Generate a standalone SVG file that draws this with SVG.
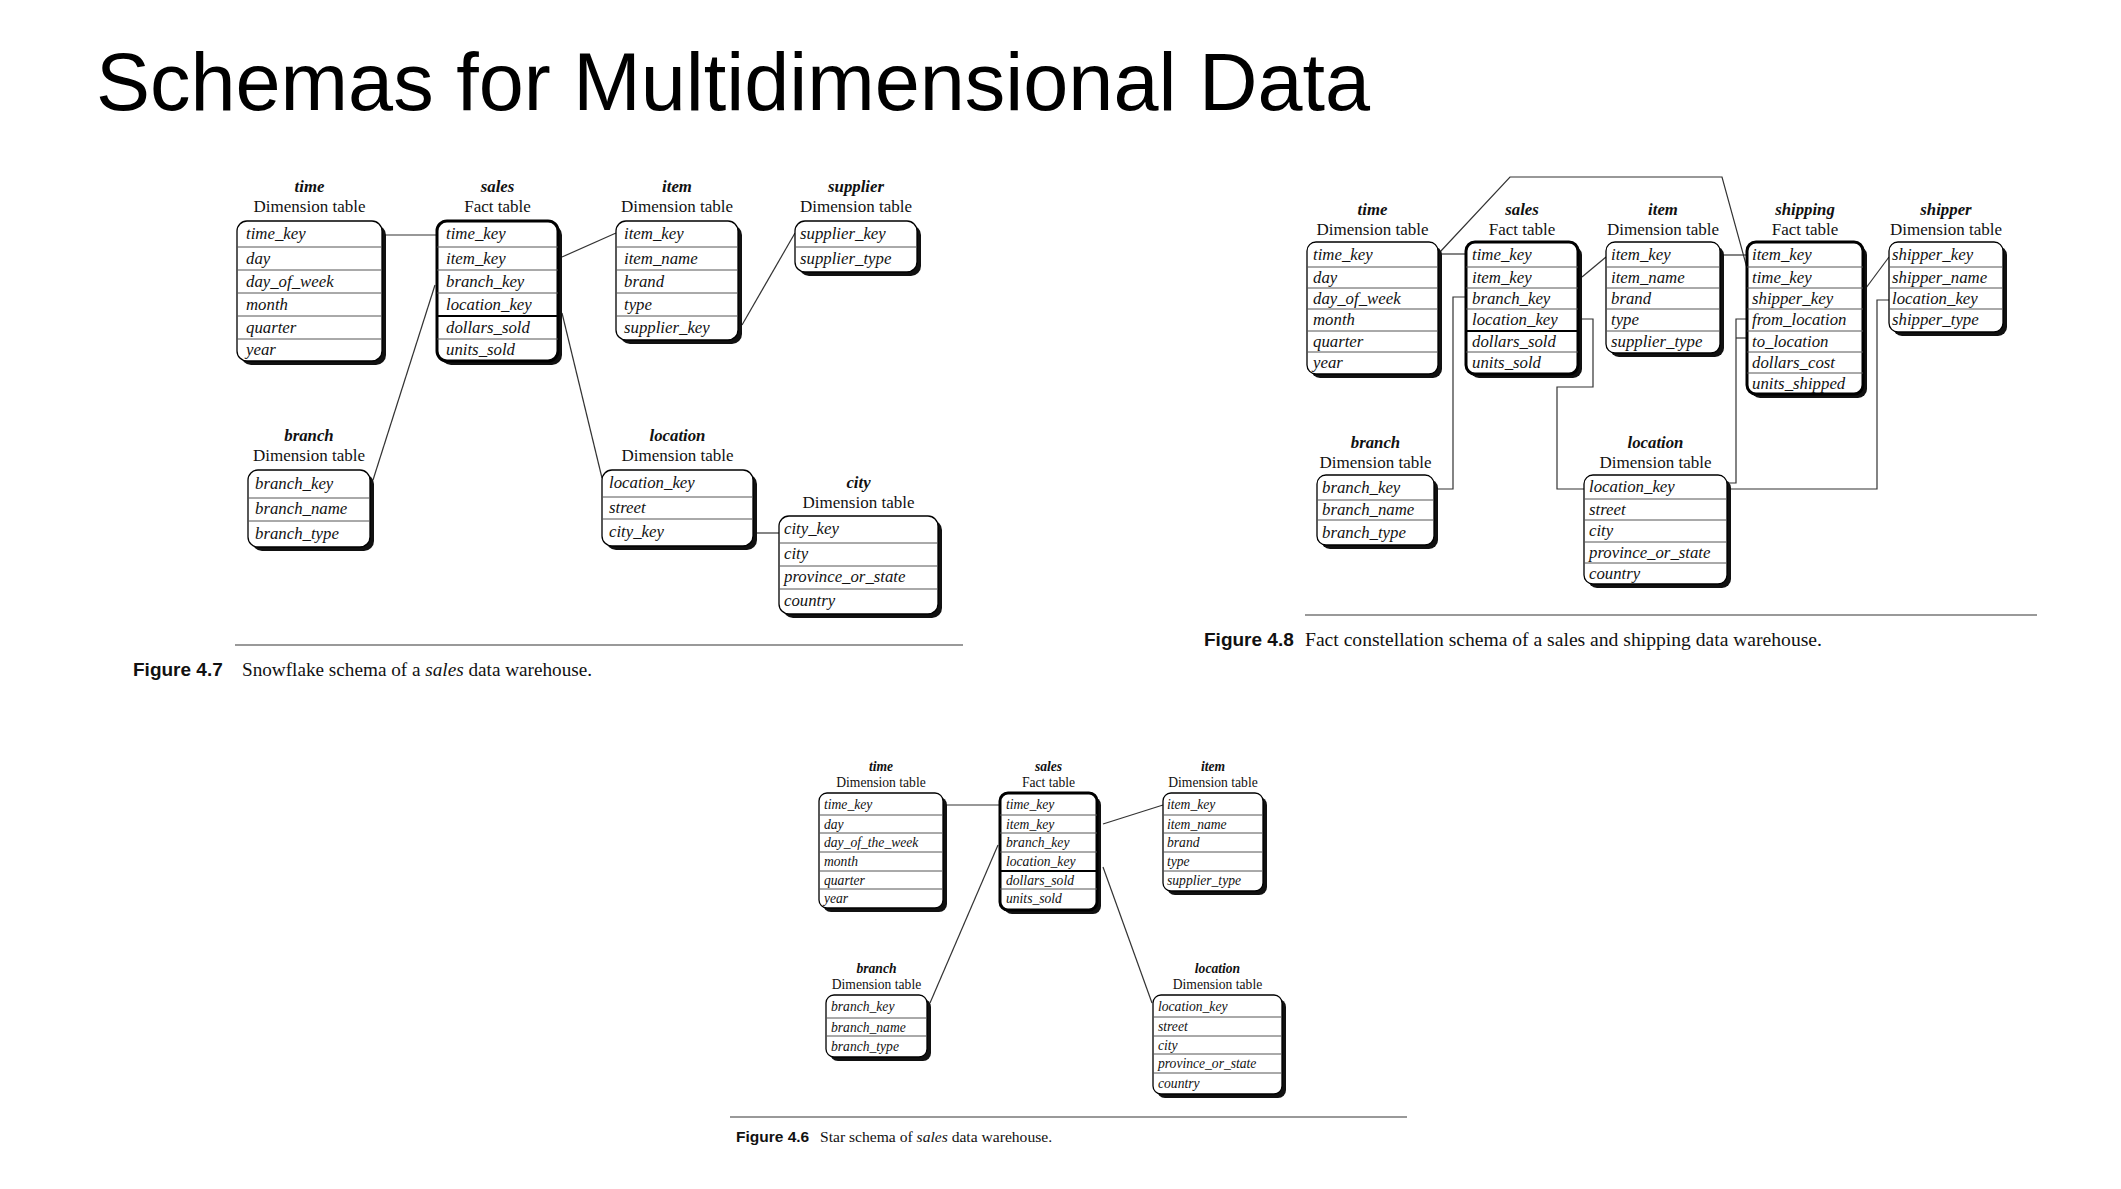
<svg xmlns="http://www.w3.org/2000/svg" width="2121" height="1189" viewBox="0 0 2121 1189">
<style>
.bg{fill:#fff}
.sh{fill:#111}
.box{fill:#fff;stroke:#000;stroke-width:1.3}
.fact{fill:#fff;stroke:#000;stroke-width:3}
.sep{stroke:#555;stroke-width:1}
.sepk{stroke:#000;stroke-width:2}
.f{font-family:"Liberation Serif",serif;font-style:italic;font-size:16.8px;fill:#111}
.nm{font-family:"Liberation Serif",serif;font-style:italic;font-weight:bold;font-size:16.8px;text-anchor:middle;fill:#111}
.sub{font-family:"Liberation Serif",serif;font-size:17px;text-anchor:middle;fill:#111}
.s .f,.s .nm,.s .sub{font-size:13.6px}
.conn path{fill:none;stroke:#333;stroke-width:1.2}
.rule{stroke:#999;stroke-width:2}
.figl{font-family:"Liberation Sans",Arial,sans-serif;font-weight:bold;fill:#111}
.cap{font-family:"Liberation Serif",serif;fill:#111}
.title{font-family:"Liberation Sans",Arial,sans-serif;font-size:81px;fill:#000}
</style>
<rect class="bg" x="0" y="0" width="2121" height="1189"/>
<text class="title" x="96" y="110">Schemas for Multidimensional Data</text>

<!-- ================= Figure 4.7 ================= -->
<g id="f47-connectors" class="conn">
<path d="M383,235 L437,235"/>
<path d="M562,257 L616,233"/>
<path d="M742,325 L795,233"/>
<path d="M435,285 L373,480"/>
<path d="M562,313 L602,478"/>
<path d="M755,533 L779,533"/>
</g>

<g id="f47-time">
<text class="nm" x="309.5" y="192">time</text>
<text class="sub" x="309.5" y="212">Dimension table</text>
<rect class="sh" x="241" y="225" width="145" height="140" rx="10"/>
<rect class="box" x="237" y="221" width="145" height="140" rx="10"/>
<path class="sep" d="M237,247H382M237,270H382M237,293H382M237,316H382M237,339H382"/>
<text class="f" x="246" y="239">time_key</text>
<text class="f" x="246" y="264">day</text>
<text class="f" x="246" y="287">day_of_week</text>
<text class="f" x="246" y="310">month</text>
<text class="f" x="246" y="333">quarter</text>
<text class="f" x="246" y="355">year</text>
</g>

<g id="f47-sales">
<text class="nm" x="497.5" y="192">sales</text>
<text class="sub" x="497.5" y="212">Fact table</text>
<rect class="sh" x="441" y="225" width="121" height="140" rx="10"/>
<rect class="fact" x="437" y="221" width="121" height="140" rx="10"/>
<path class="sep" d="M437,247H558M437,270H558M437,293H558M437,339H558"/>
<path class="sepk" d="M437,316H558"/>
<text class="f" x="446" y="239">time_key</text>
<text class="f" x="446" y="264">item_key</text>
<text class="f" x="446" y="287">branch_key</text>
<text class="f" x="446" y="310">location_key</text>
<text class="f" x="446" y="333">dollars_sold</text>
<text class="f" x="446" y="355">units_sold</text>
</g>

<g id="f47-item">
<text class="nm" x="677" y="192">item</text>
<text class="sub" x="677" y="212">Dimension table</text>
<rect class="sh" x="620" y="225" width="122" height="119" rx="10"/>
<rect class="box" x="616" y="221" width="122" height="119" rx="10"/>
<path class="sep" d="M616,247H738M616,270H738M616,293H738M616,316H738"/>
<text class="f" x="624" y="239">item_key</text>
<text class="f" x="624" y="264">item_name</text>
<text class="f" x="624" y="287">brand</text>
<text class="f" x="624" y="310">type</text>
<text class="f" x="624" y="333">supplier_key</text>
</g>

<g id="f47-supplier">
<text class="nm" x="856" y="192">supplier</text>
<text class="sub" x="856" y="212">Dimension table</text>
<rect class="sh" x="799" y="225" width="122" height="51" rx="10"/>
<rect class="box" x="795" y="221" width="122" height="51" rx="10"/>
<path class="sep" d="M795,247H917"/>
<text class="f" x="800" y="239">supplier_key</text>
<text class="f" x="800" y="264">supplier_type</text>
</g>

<g id="f47-branch">
<text class="nm" x="309" y="441">branch</text>
<text class="sub" x="309" y="461">Dimension table</text>
<rect class="sh" x="252" y="474" width="122" height="77" rx="10"/>
<rect class="box" x="248" y="470" width="122" height="77" rx="10"/>
<path class="sep" d="M248,498H370M248,521H370"/>
<text class="f" x="255" y="489">branch_key</text>
<text class="f" x="255" y="514">branch_name</text>
<text class="f" x="255" y="539">branch_type</text>
</g>

<g id="f47-location">
<text class="nm" x="677.5" y="441">location</text>
<text class="sub" x="677.5" y="461">Dimension table</text>
<rect class="sh" x="606" y="474" width="151" height="76" rx="10"/>
<rect class="box" x="602" y="470" width="151" height="76" rx="10"/>
<path class="sep" d="M602,497H753M602,519H753"/>
<text class="f" x="609" y="488">location_key</text>
<text class="f" x="609" y="513">street</text>
<text class="f" x="609" y="537">city_key</text>
</g>

<g id="f47-city">
<text class="nm" x="858.5" y="488">city</text>
<text class="sub" x="858.5" y="508">Dimension table</text>
<rect class="sh" x="783" y="520" width="159" height="98" rx="10"/>
<rect class="box" x="779" y="516" width="159" height="98" rx="10"/>
<path class="sep" d="M779,543H938M779,566H938M779,589H938"/>
<text class="f" x="784" y="534">city_key</text>
<text class="f" x="784" y="559">city</text>
<text class="f" x="784" y="582">province_or_state</text>
<text class="f" x="784" y="606">country</text>
</g>

<line class="rule" x1="235" y1="645" x2="963" y2="645"/>
<text class="figl" x="133" y="676" font-size="19">Figure 4.7</text>
<text class="cap" x="242" y="676" font-size="19.2">Snowflake schema of a <tspan font-style="italic">sales</tspan> data warehouse.</text>

<!-- ================= Figure 4.8 ================= -->
<g id="f48-connectors" class="conn">
<path d="M1440,254 L1466,254"/>
<path d="M1440,252 L1510,177 L1722,177 L1747,268"/>
<path d="M1582,277 L1606,257"/>
<path d="M1466,297 L1453,297 L1453,489 L1434,489"/>
<path d="M1578,319 L1593,319 L1593,387 L1557,387 L1557,489 L1584,489"/>
<path d="M1722,255 L1747,255"/>
<path d="M1863,292 L1889,257"/>
<path d="M1747,319 L1736,319 L1736,483 L1727,483"/>
<path d="M1736,338 L1747,338"/>
<path d="M1727,489 L1877,489 L1877,300 L1889,300"/>
</g>

<g id="f48-time">
<text class="nm" x="1372.5" y="215">time</text>
<text class="sub" x="1372.5" y="235">Dimension table</text>
<rect class="sh" x="1311" y="246" width="131" height="132" rx="9"/>
<rect class="box" x="1307" y="242" width="131" height="132" rx="9"/>
<path class="sep" d="M1307,267H1438M1307,288H1438M1307,309H1438M1307,331H1438M1307,352H1438"/>
<text class="f" x="1313" y="260">time_key</text>
<text class="f" x="1313" y="283">day</text>
<text class="f" x="1313" y="304">day_of_week</text>
<text class="f" x="1313" y="325">month</text>
<text class="f" x="1313" y="347">quarter</text>
<text class="f" x="1313" y="368">year</text>
</g>

<g id="f48-sales">
<text class="nm" x="1522" y="215">sales</text>
<text class="sub" x="1522" y="235">Fact table</text>
<rect class="sh" x="1470" y="246" width="112" height="132" rx="9"/>
<rect class="fact" x="1466" y="242" width="112" height="132" rx="9"/>
<path class="sep" d="M1466,267H1578M1466,288H1578M1466,309H1578M1466,352H1578"/>
<path class="sepk" d="M1466,331H1578"/>
<text class="f" x="1472" y="260">time_key</text>
<text class="f" x="1472" y="283">item_key</text>
<text class="f" x="1472" y="304">branch_key</text>
<text class="f" x="1472" y="325">location_key</text>
<text class="f" x="1472" y="347">dollars_sold</text>
<text class="f" x="1472" y="368">units_sold</text>
</g>

<g id="f48-item">
<text class="nm" x="1663" y="215">item</text>
<text class="sub" x="1663" y="235">Dimension table</text>
<rect class="sh" x="1610" y="246" width="114" height="111" rx="9"/>
<rect class="box" x="1606" y="242" width="114" height="111" rx="9"/>
<path class="sep" d="M1606,267H1720M1606,288H1720M1606,309H1720M1606,331H1720"/>
<text class="f" x="1611" y="260">item_key</text>
<text class="f" x="1611" y="283">item_name</text>
<text class="f" x="1611" y="304">brand</text>
<text class="f" x="1611" y="325">type</text>
<text class="f" x="1611" y="347">supplier_type</text>
</g>

<g id="f48-shipping">
<text class="nm" x="1805" y="215">shipping</text>
<text class="sub" x="1805" y="235">Fact table</text>
<rect class="sh" x="1751" y="246" width="116" height="152" rx="9"/>
<rect class="fact" x="1747" y="242" width="116" height="152" rx="9"/>
<path class="sep" d="M1747,267H1863M1747,288H1863M1747,309H1863M1747,331H1863M1747,352H1863M1747,373H1863"/>
<text class="f" x="1752" y="260">item_key</text>
<text class="f" x="1752" y="283">time_key</text>
<text class="f" x="1752" y="304">shipper_key</text>
<text class="f" x="1752" y="325">from_location</text>
<text class="f" x="1752" y="347">to_location</text>
<text class="f" x="1752" y="368">dollars_cost</text>
<text class="f" x="1752" y="389">units_shipped</text>
</g>

<g id="f48-shipper">
<text class="nm" x="1946" y="215">shipper</text>
<text class="sub" x="1946" y="235">Dimension table</text>
<rect class="sh" x="1893" y="246" width="114" height="90" rx="9"/>
<rect class="box" x="1889" y="242" width="114" height="90" rx="9"/>
<path class="sep" d="M1889,267H2003M1889,288H2003M1889,309H2003"/>
<text class="f" x="1892" y="260">shipper_key</text>
<text class="f" x="1892" y="283">shipper_name</text>
<text class="f" x="1892" y="304">location_key</text>
<text class="f" x="1892" y="325">shipper_type</text>
</g>

<g id="f48-branch">
<text class="nm" x="1375.5" y="448">branch</text>
<text class="sub" x="1375.5" y="468">Dimension table</text>
<rect class="sh" x="1321" y="479" width="117" height="70" rx="9"/>
<rect class="box" x="1317" y="475" width="117" height="70" rx="9"/>
<path class="sep" d="M1317,500H1434M1317,520H1434"/>
<text class="f" x="1322" y="493">branch_key</text>
<text class="f" x="1322" y="515">branch_name</text>
<text class="f" x="1322" y="538">branch_type</text>
</g>

<g id="f48-location">
<text class="nm" x="1655.5" y="448">location</text>
<text class="sub" x="1655.5" y="468">Dimension table</text>
<rect class="sh" x="1588" y="479" width="143" height="109" rx="9"/>
<rect class="box" x="1584" y="475" width="143" height="109" rx="9"/>
<path class="sep" d="M1584,499H1727M1584,520H1727M1584,542H1727M1584,563H1727"/>
<text class="f" x="1589" y="492">location_key</text>
<text class="f" x="1589" y="515">street</text>
<text class="f" x="1589" y="536">city</text>
<text class="f" x="1589" y="558">province_or_state</text>
<text class="f" x="1589" y="579">country</text>
</g>

<line class="rule" x1="1305" y1="615" x2="2037" y2="615"/>
<text class="figl" x="1204" y="646" font-size="19">Figure 4.8</text>
<text class="cap" x="1305" y="646" font-size="19.6">Fact constellation schema of a sales and shipping data warehouse.</text>

<!-- ================= Figure 4.6 ================= -->
<g id="f46-connectors" class="conn">
<path d="M945,805 L1000,805"/>
<path d="M1103,824 L1163,805"/>
<path d="M998,845 L930,1003"/>
<path d="M1103,867 L1152,1003"/>
</g>

<g class="s">
<g id="f46-time">
<text class="nm" x="881" y="771">time</text>
<text class="sub" x="881" y="787">Dimension table</text>
<rect class="sh" x="823" y="797" width="124" height="115" rx="8"/>
<rect class="box" x="819" y="793" width="124" height="115" rx="8"/>
<path class="sep" d="M819,815H943M819,833H943M819,852H943M819,871H943M819,889H943"/>
<text class="f" x="824" y="808.5">time_key</text>
<text class="f" x="824" y="828.5">day</text>
<text class="f" x="824" y="847">day_of_the_week</text>
<text class="f" x="824" y="866">month</text>
<text class="f" x="824" y="884.5">quarter</text>
<text class="f" x="824" y="903">year</text>
</g>

<g id="f46-sales">
<text class="nm" x="1048.5" y="771">sales</text>
<text class="sub" x="1048.5" y="787">Fact table</text>
<rect class="sh" x="1004" y="797" width="97" height="117" rx="8"/>
<rect class="fact" x="1000" y="793" width="97" height="117" rx="8"/>
<path class="sep" d="M1000,815H1097M1000,833H1097M1000,852H1097M1000,889H1097"/>
<path class="sepk" d="M1000,871H1097"/>
<text class="f" x="1006" y="808.5">time_key</text>
<text class="f" x="1006" y="828.5">item_key</text>
<text class="f" x="1006" y="847">branch_key</text>
<text class="f" x="1006" y="866">location_key</text>
<text class="f" x="1006" y="884.5">dollars_sold</text>
<text class="f" x="1006" y="903">units_sold</text>
</g>

<g id="f46-item">
<text class="nm" x="1213" y="771">item</text>
<text class="sub" x="1213" y="787">Dimension table</text>
<rect class="sh" x="1167" y="797" width="100" height="98" rx="8"/>
<rect class="box" x="1163" y="793" width="100" height="98" rx="8"/>
<path class="sep" d="M1163,815H1263M1163,833H1263M1163,852H1263M1163,871H1263"/>
<text class="f" x="1167" y="808.5">item_key</text>
<text class="f" x="1167" y="828.5">item_name</text>
<text class="f" x="1167" y="847">brand</text>
<text class="f" x="1167" y="866">type</text>
<text class="f" x="1167" y="884.5">supplier_type</text>
</g>

<g id="f46-branch">
<text class="nm" x="876.5" y="973">branch</text>
<text class="sub" x="876.5" y="989">Dimension table</text>
<rect class="sh" x="830" y="999" width="101" height="62" rx="8"/>
<rect class="box" x="826" y="995" width="101" height="62" rx="8"/>
<path class="sep" d="M826,1018H927M826,1036H927"/>
<text class="f" x="831" y="1011">branch_key</text>
<text class="f" x="831" y="1031.5">branch_name</text>
<text class="f" x="831" y="1051">branch_type</text>
</g>

<g id="f46-location">
<text class="nm" x="1217.5" y="973">location</text>
<text class="sub" x="1217.5" y="989">Dimension table</text>
<rect class="sh" x="1157" y="999" width="129" height="99" rx="8"/>
<rect class="box" x="1153" y="995" width="129" height="99" rx="8"/>
<path class="sep" d="M1153,1017H1282M1153,1036H1282M1153,1054H1282M1153,1073H1282"/>
<text class="f" x="1158" y="1010.5">location_key</text>
<text class="f" x="1158" y="1031">street</text>
<text class="f" x="1158" y="1049.5">city</text>
<text class="f" x="1158" y="1068">province_or_state</text>
<text class="f" x="1158" y="1088">country</text>
</g>
</g>

<line class="rule" x1="730" y1="1117" x2="1407" y2="1117"/>
<text class="figl" x="736" y="1142" font-size="15.5">Figure 4.6</text>
<text class="cap" x="820" y="1142" font-size="15.6">Star schema of <tspan font-style="italic">sales</tspan> data warehouse.</text>
</svg>
